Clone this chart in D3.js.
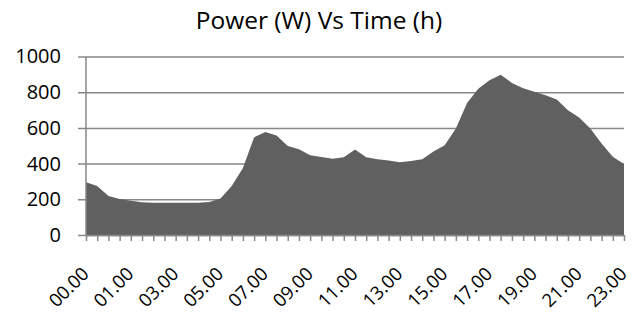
<!DOCTYPE html>
<head>
  <meta charset="utf-8">
  <script src="https://cdn.jsdelivr.net/npm/d3@7"></script>
  <style>
    body { margin: 0; background: white; }
    text { font-family: "Open Sans", sans-serif; fill: black; }
  </style>
</head>
<body>
<script>
const W = 644;
const H = 316;

// power readings, one per category (49 points)
const power = [295, 274, 218, 201, 192, 183, 180, 180, 180, 180, 180, 185, 205,
  275, 375, 547, 577, 558, 498, 480, 447, 437, 427, 435, 479, 436, 424, 418,
  408, 414, 424, 468, 503, 597, 740, 820, 867, 898, 852, 822, 802, 783, 759,
  699, 658, 597, 513, 438, 398];

// labels shown every 4th category
const timeLabels = ["00.00", "01.00", "03.00", "05.00", "07.00", "09.00", "11.00",
  "13.00", "15.00", "17.00", "19.00", "21.00", "23.00"];
const labelStep = 4;
const yTicks = [0, 200, 400, 600, 800, 1000];

const svg = d3.select("body").append("svg")
  .attr("width", W)
  .attr("height", H);

const x = d3.scaleLinear()
  .domain([0, power.length - 1])
  .range([86, 624]);

const y = d3.scaleLinear()
  .domain([0, 1000])
  .range([235, 56.5]);

// title
svg.append("text")
  .attr("x", 319)
  .attr("y", 29)
  .attr("text-anchor", "middle")
  .style("font-size", "24.5px")
  .text("Power (W) Vs Time (h)");

// gridlines + y axis
const yaxis = d3.axisLeft(y)
  .tickValues(yTicks)
  .tickSize(-(624 - 78))
  .tickPadding(17)
  .tickFormat(d3.format("d"));

const yg = svg.append("g")
  .attr("transform", "translate(78,0)")
  .call(yaxis);
yg.select(".domain").remove();
yg.selectAll(".tick line")
  .attr("stroke", "#878787")
  .attr("stroke-width", 1.5);
yg.selectAll(".tick text")
  .style("font-size", "20px")
  .attr("x", -17);

// area
const area = d3.area()
  .x((d, i) => x(i))
  .y0(y(0))
  .y1(d => y(d));

svg.append("path")
  .datum(power)
  .attr("d", area)
  .attr("fill", "#606060");

// left axis line
svg.append("line")
  .attr("x1", x(0)).attr("x2", x(0))
  .attr("y1", y(1000)).attr("y2", y(0))
  .attr("stroke", "#878787")
  .attr("stroke-width", 1.5);

// x axis with a tick per category
const xaxis = d3.axisBottom(x)
  .tickValues(d3.range(power.length))
  .tickSize(6)
  .tickSizeOuter(0)
  .tickFormat("");

const xg = svg.append("g")
  .attr("transform", "translate(0," + y(0) + ")")
  .call(xaxis);
xg.select(".domain")
  .attr("stroke", "#878787")
  .attr("stroke-width", 1.5);
xg.selectAll(".tick line")
  .attr("stroke", "#878787")
  .attr("stroke-width", 1.5);

// rotated time labels
svg.append("g")
  .selectAll("text")
  .data(timeLabels)
  .join("text")
  .attr("transform", (d, i) => "translate(" + (x(i * labelStep) + 4) + "," + (y(0) + 40) + ") rotate(-45)")
  .attr("text-anchor", "end")
  .style("font-size", "18.5px")
  .text(d => d);
</script>
</body>
